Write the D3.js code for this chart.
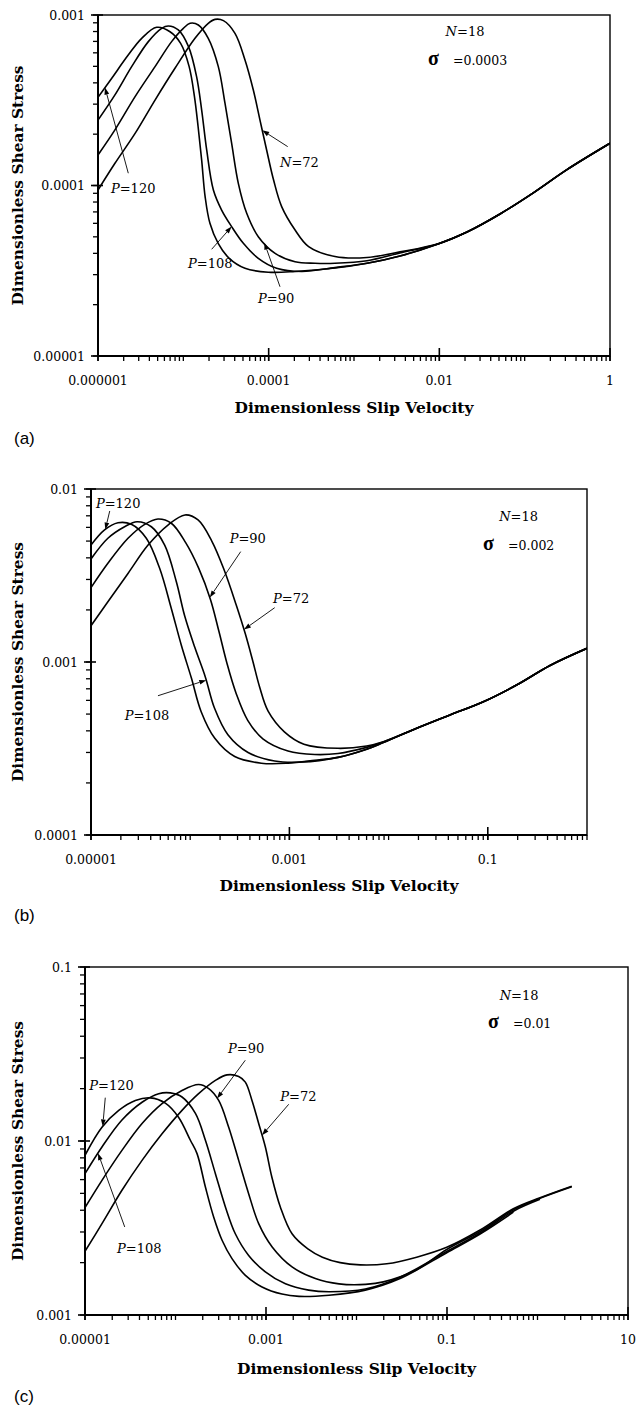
<!DOCTYPE html>
<html><head><meta charset="utf-8">
<script src="https://cdn.jsdelivr.net/npm/d3@7"></script>
<style>body{margin:0;background:#fff}svg{display:block}</style>
</head><body>
<svg id="chart" width="637" height="1410"></svg>
<script>
// ---------------- DATA ----------------
const seriesNames = ["P=72", "P=90", "P=108", "P=120"];
const panelLabels = ["(a)", "(b)", "(c)"];
const sigmaTexts = ["=0.0003", "=0.002", "=0.01"];
const nText = ["N", "=18"];

// panel (a): [slip velocity, shear stress]
const a_P120 = [[1.0e-6,3.29e-4],[1.45e-6,4.26e-4],[2.26e-6,5.82e-4],[3.25e-6,7.30e-4],[4.87e-6,8.47e-4],[6.98e-6,7.98e-4],[9.3e-6,6.82e-4],[1.17e-5,4.98e-4],[1.35e-5,3.32e-4],[1.49e-5,2.21e-4],[1.64e-5,1.41e-4],[1.80e-5,8.61e-5],[2.05e-5,6.00e-5],[2.56e-5,4.58e-5],[3.45e-5,3.74e-5],[5.28e-5,3.27e-5],[9.91e-5,3.10e-5],[2.04e-4,3.13e-5],[5.99e-4,3.28e-5],[1.42e-3,3.50e-5],[3.46e-3,3.86e-5],[9.65e-3,4.54e-5]];
const a_P108 = [[1.0e-6,2.42e-4],[1.58e-6,3.40e-4],[2.48e-6,4.98e-4],[3.89e-6,6.98e-4],[5.57e-6,8.35e-4],[6.67e-6,8.62e-4],[8.73e-6,8.17e-4],[1.15e-5,6.52e-4],[1.43e-5,4.35e-4],[1.64e-5,2.77e-4],[1.88e-5,1.61e-4],[2.25e-5,9.41e-5],[2.81e-5,7.18e-5],[3.68e-5,5.74e-5],[5.05e-5,4.58e-5],[7.56e-5,3.74e-5],[1.24e-4,3.27e-5],[2.44e-4,3.13e-5],[5.99e-4,3.30e-5],[1.42e-3,3.50e-5],[3.46e-3,3.86e-5],[9.65e-3,4.54e-5]];
const a_P90 = [[1.0e-6,1.51e-4],[1.58e-6,2.12e-4],[2.72e-6,3.32e-4],[4.66e-6,4.98e-4],[7.29e-6,6.98e-4],[1.0e-5,8.35e-4],[1.20e-5,8.94e-4],[1.50e-5,8.74e-4],[1.96e-5,7.30e-4],[2.57e-5,4.98e-4],[3.08e-5,3.03e-4],[3.68e-5,1.77e-4],[4.41e-5,1.03e-4],[5.53e-5,6.87e-5],[7.56e-5,5.01e-5],[1.19e-4,4.00e-5],[2.04e-4,3.57e-5],[3.49e-4,3.50e-5],[5.99e-4,3.50e-5],[1.42e-3,3.62e-5],[3.46e-3,4.02e-5],[9.65e-3,4.54e-5]];
const a_P72 = [[1.0e-6,9.41e-5],[1.58e-6,1.35e-4],[2.72e-6,2.02e-4],[4.66e-6,3.17e-4],[7.98e-6,4.87e-4],[1.37e-5,7.30e-4],[1.96e-5,8.94e-4],[2.35e-5,9.43e-4],[2.95e-5,9.27e-4],[4.03e-5,7.81e-4],[5.28e-5,5.45e-4],[6.61e-5,3.63e-4],[7.91e-5,2.42e-4],[9.48e-5,1.61e-4],[1.14e-4,1.08e-4],[1.42e-4,7.52e-5],[2.04e-4,5.48e-5],[2.94e-4,4.38e-5],[5.99e-4,3.83e-5],[1.42e-3,3.78e-5],[3.46e-3,4.08e-5],[9.65e-3,4.56e-5]];
const a_tail = [[0.0211,5.34e-5],[0.0514,6.81e-5],[0.125,9.03e-5],[0.313,1.24e-4],[1.0,1.77e-4]];

// panel (b)
const b_P120 = [[1.0e-5,4.74e-3],[1.37e-5,5.80e-3],[1.87e-5,6.38e-3],[2.55e-5,6.25e-3],[3.61e-5,5.19e-3],[4.92e-5,3.48e-3],[6.45e-5,2.04e-3],[8.14e-5,1.25e-3],[1.03e-4,8.05e-4],[1.29e-4,5.16e-4],[1.77e-4,3.62e-4],[2.81e-4,2.84e-4],[5.21e-4,2.60e-4],[9.68e-4,2.60e-4],[1.80e-3,2.70e-4],[3.09e-3,2.81e-4],[6.01e-3,3.13e-4],[8.85e-3,3.42e-4]];
const b_P108 = [[1.0e-5,3.94e-3],[1.48e-5,5.19e-3],[2.18e-5,6.05e-3],[2.91e-5,6.47e-3],[4.06e-5,6.05e-3],[5.53e-5,4.74e-3],[7.25e-5,2.91e-3],[8.79e-5,1.85e-3],[1.11e-4,1.22e-3],[1.42e-4,8.20e-4],[1.76e-4,5.40e-4],[2.40e-4,3.80e-4],[3.83e-4,3.00e-4],[7.10e-4,2.68e-4],[1.32e-3,2.64e-4],[3.09e-3,2.81e-4],[6.01e-3,3.13e-4],[8.85e-3,3.42e-4]];
const b_P90 = [[1.0e-5,2.69e-3],[1.48e-5,3.72e-3],[2.36e-5,5.19e-3],[3.48e-5,6.25e-3],[4.73e-5,6.71e-3],[6.45e-5,6.34e-3],[9.0e-5,4.90e-3],[1.22e-4,3.48e-3],[1.60e-4,2.30e-3],[1.95e-4,1.50e-3],[2.35e-4,9.80e-4],[2.90e-4,6.60e-4],[3.80e-4,4.60e-4],[5.40e-4,3.60e-4],[9.68e-4,3.06e-4],[1.80e-3,2.92e-4],[3.09e-3,2.96e-4],[6.01e-3,3.21e-4],[8.85e-3,3.45e-4]];
const b_P72 = [[1.0e-5,1.62e-3],[1.48e-5,2.23e-3],[2.36e-5,3.25e-3],[3.76e-5,4.74e-3],[5.97e-5,6.19e-3],[8.86e-5,7.08e-3],[1.20e-4,6.62e-3],[1.65e-4,5.00e-3],[2.20e-4,3.40e-3],[2.90e-4,2.15e-3],[3.60e-4,1.45e-3],[4.30e-4,1.00e-3],[5.00e-4,7.20e-4],[6.10e-4,5.20e-4],[8.90e-4,3.95e-4],[1.40e-3,3.35e-4],[3.09e-3,3.17e-4],[6.01e-3,3.27e-4],[8.85e-3,3.46e-4]];
const b_tail = [[0.0192,4.14e-4],[0.0416,4.94e-4],[0.0902,5.89e-4],[0.195,7.36e-4],[0.424,9.55e-4],[1.0,1.20e-3]];

// panel (c)
const c_P120 = [[1.0e-5,8.28e-3],[1.54e-5,1.20e-2],[2.36e-5,1.50e-2],[3.60e-5,1.71e-2],[5.27e-5,1.77e-2],[7.72e-5,1.65e-2],[1.08e-4,1.37e-2],[1.46e-4,1.01e-2],[1.73e-4,8.46e-3],[2.14e-4,5.44e-3],[2.64e-4,3.66e-3],[3.27e-4,2.69e-3],[4.21e-4,2.11e-3],[5.92e-4,1.69e-3],[9.04e-4,1.45e-3],[1.50e-3,1.32e-3],[2.32e-3,1.28e-3],[4.97e-3,1.30e-3],[0.0125,1.39e-3],[0.0303,1.62e-3],[0.0993,2.28e-3],[0.232,2.92e-3],[0.541,3.90e-3]];
const c_P108 = [[1.0e-5,6.49e-3],[1.54e-5,9.24e-3],[2.56e-5,1.32e-2],[4.27e-5,1.67e-2],[6.52e-5,1.87e-2],[8.77e-5,1.89e-2],[1.18e-4,1.79e-2],[1.66e-4,1.44e-2],[2.14e-4,1.01e-2],[2.76e-4,6.49e-3],[3.56e-4,4.18e-3],[4.58e-4,2.93e-3],[6.43e-4,2.20e-3],[9.84e-4,1.77e-3],[1.64e-3,1.51e-3],[2.96e-3,1.39e-3],[4.97e-3,1.36e-3],[0.0125,1.41e-3],[0.0303,1.65e-3],[0.0993,2.32e-3],[0.232,2.96e-3],[0.541,3.95e-3],[1.066,4.62e-3]];
const c_P90 = [[1.0e-5,4.14e-3],[1.54e-5,5.94e-3],[2.56e-5,8.83e-3],[4.27e-5,1.26e-2],[7.10e-5,1.64e-2],[1.18e-4,1.95e-2],[1.80e-4,2.11e-2],[2.33e-4,2.00e-2],[3.00e-4,1.71e-2],[3.87e-4,1.20e-2],[4.99e-4,7.74e-3],[6.43e-4,4.98e-3],[8.30e-4,3.35e-3],[1.17e-3,2.46e-3],[1.94e-3,1.89e-3],[3.51e-3,1.62e-3],[6.40e-3,1.51e-3],[0.0126,1.50e-3],[0.0198,1.55e-3],[0.0462,1.82e-3],[0.0993,2.38e-3],[0.232,3.02e-3],[0.541,4.02e-3],[1.066,4.68e-3],[2.39,5.45e-3]];
const c_P72 = [[1.0e-5,2.32e-3],[1.54e-5,3.35e-3],[2.56e-5,5.21e-3],[4.27e-5,7.74e-3],[7.10e-5,1.10e-2],[1.18e-4,1.50e-2],[1.80e-4,1.87e-2],[2.76e-4,2.23e-2],[3.71e-4,2.40e-2],[4.99e-4,2.35e-2],[5.91e-4,2.18e-2],[7.00e-4,1.71e-2],[8.30e-4,1.26e-2],[9.84e-4,9.24e-3],[1.16e-3,6.21e-3],[1.44e-3,4.18e-3],[1.94e-3,2.93e-3],[2.90e-3,2.40e-3],[4.20e-3,2.15e-3],[6.60e-3,2.00e-3],[0.011,1.94e-3],[0.0216,1.97e-3],[0.0462,2.15e-3],[0.0993,2.45e-3],[0.232,3.08e-3],[0.541,4.08e-3],[1.066,4.72e-3],[2.39,5.50e-3]];

// tick labels
const xTickValsA = [1e-6, 1e-4, 1e-2, 1], xTickTextA = ["0.000001", "0.0001", "0.01", "1"];
const yTickValsA = [1e-5, 1e-4, 1e-3], yTickTextA = ["0.00001", "0.0001", "0.001"];
const xTickValsB = [1e-5, 1e-3, 1e-1], xTickTextB = ["0.00001", "0.001", "0.1"];
const yTickValsB = [1e-4, 1e-3, 1e-2], yTickTextB = ["0.0001", "0.001", "0.01"];
const xTickValsC = [1e-5, 1e-3, 1e-1, 10], xTickTextC = ["0.00001", "0.001", "0.1", "10"];
const yTickValsC = [1e-3, 1e-2, 1e-1], yTickTextC = ["0.001", "0.01", "0.1"];

const xTitle = "Dimensionless Slip Velocity";
const yTitle = "Dimensionless Shear Stress";

// ---------------- LAYOUT ----------------
const panels = [
  { left: 98, right: 610, top: 15, bottom: 356, xDom: [1e-6, 1], yDom: [1e-5, 1e-3],
    xt: xTickValsA, xtt: xTickTextA, yt: yTickValsA, ytt: yTickTextA, titleY: 413, labelY: 444,
    series: [a_P72.concat(a_tail), a_P90.concat(a_tail), a_P108.concat(a_tail), a_P120.concat(a_tail)],
    nAt: [-1.699, -3.123], sAt: [-2.133, -3.293],
    ann: [
      { t: ["P", "=120"], at: [-5.848, -4.044], from: [-5.645, -3.928], s: 3, tip: -5.918 },
      { t: ["N", "=72"], at: [-3.867, -3.891], from: [-3.777, -3.772], s: 0, tip: -4.075 },
      { t: ["P", "=108"], at: [-4.945, -4.484], from: [-4.668, -4.374], s: 2, tip: -4.434 },
      { t: ["P", "=90"], at: [-4.125, -4.689], from: [-3.867, -4.594], s: 1, tip: -4.051 } ] },
  { left: 91, right: 587, top: 489, bottom: 835, xDom: [1e-5, 1], yDom: [1e-4, 1e-2],
    xt: xTickValsB, xtt: xTickTextB, yt: yTickValsB, ytt: yTickTextB, titleY: 891, labelY: 921,
    series: [b_P72.concat(b_tail), b_P90.concat(b_tail), b_P108.concat(b_tail), b_P120.concat(b_tail)],
    nAt: [-0.690, -2.185], sAt: [-1.048, -2.353],
    ann: [
      { t: ["P", "=120"], at: [-4.950, -2.110], from: [-4.811, -2.127], s: 3, tip: -4.856 },
      { t: ["P", "=90"], at: [-3.602, -2.312], from: [-3.491, -2.362], s: 1, tip: -3.803 },
      { t: ["P", "=72"], at: [-3.165, -2.659], from: [-3.148, -2.686], s: 0, tip: -3.458 },
      { t: ["P", "=108"], at: [-4.660, -3.335], from: [-4.325, -3.195], s: 2, tip: -3.838 } ] },
  { left: 85, right: 628, top: 967, bottom: 1315, xDom: [1e-5, 10], yDom: [1e-3, 1e-1],
    xt: xTickValsC, xtt: xTickTextC, yt: yTickValsC, ytt: yTickTextC, titleY: 1374, labelY: 1402,
    series: [c_P72, c_P90, c_P108, c_P120],
    nAt: [-0.204, -1.191], sAt: [-0.547, -1.352],
    ann: [
      { t: ["P", "=120"], at: [-4.952, -1.709], from: [-4.776, -1.751], s: 3, tip: -4.804 },
      { t: ["P", "=90"], at: [-3.420, -1.496], from: [-3.229, -1.536], s: 1, tip: -3.541 },
      { t: ["P", "=72"], at: [-2.842, -1.772], from: [-2.749, -1.789], s: 0, tip: -3.044 },
      { t: ["P", "=108"], at: [-4.646, -2.645], from: [-4.561, -2.494], s: 2, tip: -4.856 } ] }
];

const svg = d3.select("#chart");
const SERIF = "'DejaVu Serif', 'Liberation Serif', serif";
const P10 = v => Math.pow(10, v);

function interpLog(series, lx) {
  for (let i = 0; i < series.length - 1; i++) {
    const x0 = Math.log10(series[i][0]), x1 = Math.log10(series[i + 1][0]);
    if (lx >= x0 && lx <= x1) {
      const f = (lx - x0) / (x1 - x0);
      return Math.log10(series[i][1]) * (1 - f) + Math.log10(series[i + 1][1]) * f;
    }
  }
  return Math.log10(series[0][1]);
}

function fitWidth(sel, target) {
  const w = sel.node().getComputedTextLength();
  const fs = parseFloat(sel.attr("font-size"));
  sel.attr("font-size", (fs * target / w).toFixed(2));
}

panels.forEach((p, i) => {
  const x = d3.scaleLog().domain(p.xDom).range([p.left, p.right]);
  const y = d3.scaleLog().domain(p.yDom).range([p.bottom, p.top]);
  const g = svg.append("g");

  const clipId = "clip" + i;
  svg.append("clipPath").attr("id", clipId).append("rect")
    .attr("x", p.left).attr("y", p.top).attr("width", p.right - p.left).attr("height", p.bottom - p.top);

  // curves
  const line = d3.line().x(d => x(d[0])).y(d => y(d[1])).curve(d3.curveCatmullRom.alpha(0.5));
  g.append("g").attr("clip-path", `url(#${clipId})`).selectAll("path").data(p.series).join("path")
    .attr("d", line).attr("fill", "none").attr("stroke", "#000").attr("stroke-width", 1.6)
    .attr("stroke-linejoin", "round");

  // frame
  g.append("rect").attr("x", p.left).attr("y", p.top).attr("width", p.right - p.left).attr("height", p.bottom - p.top)
    .attr("fill", "none").attr("stroke", "#000").attr("stroke-width", 1.4);
  g.append("line").attr("x1", p.left).attr("x2", p.left).attr("y1", p.top).attr("y2", p.bottom).attr("stroke", "#000").attr("stroke-width", 2);
  g.append("line").attr("x1", p.left).attr("x2", p.right).attr("y1", p.bottom).attr("y2", p.bottom).attr("stroke", "#000").attr("stroke-width", 2);

  // minor ticks
  const minors = (dom) => {
    const out = [];
    const e0 = Math.round(Math.log10(dom[0])), e1 = Math.round(Math.log10(dom[1]));
    for (let e = e0; e <= e1; e++) for (let k = 1; k <= 9; k++) {
      const v = k * Math.pow(10, e);
      if (v >= dom[0] * 0.999 && v <= dom[1] * 1.001) out.push(v);
    }
    return out;
  };
  g.append("g").selectAll("line").data(minors(p.xDom)).join("line")
    .attr("x1", d => x(d)).attr("x2", d => x(d)).attr("y1", p.bottom).attr("y2", p.bottom + 5)
    .attr("stroke", "#000").attr("stroke-width", 1.3);
  g.append("g").selectAll("line").data(p.xt).join("line")
    .attr("x1", d => x(d)).attr("x2", d => x(d)).attr("y1", p.bottom - 8).attr("y2", p.bottom + 5)
    .attr("stroke", "#000").attr("stroke-width", 1.6);
  g.append("g").selectAll("line").data(minors(p.yDom)).join("line")
    .attr("x1", p.left - 5).attr("x2", p.left).attr("y1", d => y(d)).attr("y2", d => y(d))
    .attr("stroke", "#000").attr("stroke-width", 1.3);
  g.append("g").selectAll("line").data(p.yt).join("line")
    .attr("x1", p.left - 7).attr("x2", p.left + 5).attr("y1", d => y(d)).attr("y2", d => y(d))
    .attr("stroke", "#000").attr("stroke-width", 1.6);

  // tick labels
  g.append("g").selectAll("text").data(p.xt).join("text")
    .attr("x", d => x(d)).attr("y", p.bottom + 29).attr("text-anchor", "middle")
    .attr("font-family", SERIF).attr("font-size", 12.5).text((d, j) => p.xtt[j]);
  g.append("g").selectAll("text").data(p.yt).join("text")
    .attr("x", p.left - 13).attr("y", d => y(d) + 4.5).attr("text-anchor", "end")
    .attr("font-family", SERIF).attr("font-size", 12.5).text((d, j) => p.ytt[j]);

  // titles
  const xt = g.append("text").attr("x", (p.left + p.right) / 2).attr("y", p.titleY).attr("text-anchor", "middle")
    .attr("font-family", SERIF).attr("font-weight", "bold").attr("font-size", 14).text(xTitle);
  fitWidth(xt, 239);
  const yc = (p.top + p.bottom) / 2;
  const yt = g.append("text").attr("transform", `translate(23,${yc}) rotate(-90)`).attr("text-anchor", "middle")
    .attr("font-family", SERIF).attr("font-weight", "bold").attr("font-size", 14).text(yTitle);
  fitWidth(yt, 240);

  // panel label
  g.append("text").attr("x", 14).attr("y", p.labelY).attr("font-family", "'Liberation Sans', Arial, sans-serif")
    .attr("font-size", 17).text(panelLabels[i]);

  // N=18 and sigma
  const nt = g.append("text").attr("x", x(P10(p.nAt[0]))).attr("y", y(P10(p.nAt[1]))).attr("text-anchor", "middle")
    .attr("font-family", SERIF).attr("font-size", 13);
  nt.append("tspan").attr("font-style", "italic").text(nText[0]);
  nt.append("tspan").text(nText[1]);
  const sx = x(P10(p.sAt[0])), sy = y(P10(p.sAt[1]));
  g.append("text").attr("x", sx).attr("y", sy).attr("font-family", "'Liberation Serif', serif").attr("font-weight", "bold")
    .attr("font-size", 20).text("σ");
  g.append("text").attr("x", sx + 25).attr("y", sy).attr("font-family", SERIF).attr("font-size", 12.5).text(sigmaTexts[i]);

  // curve labels with arrows
  p.ann.forEach(a => {
    const t = g.append("text").attr("x", x(P10(a.at[0]))).attr("y", y(P10(a.at[1])))
      .attr("font-family", SERIF).attr("font-size", 13);
    t.append("tspan").attr("font-style", "italic").text(a.t[0]);
    t.append("tspan").text(a.t[1]);
    const fx = x(P10(a.from[0])), fy = y(P10(a.from[1]));
    const tx = x(P10(a.tip)), ty = y(P10(interpLog(p.series[a.s], a.tip)));
    const ang = Math.atan2(ty - fy, tx - fx);
    const L = 7, W = 2.4;
    const bx = tx - L * Math.cos(ang), by = ty - L * Math.sin(ang);
    g.append("line").attr("x1", fx).attr("y1", fy).attr("x2", bx).attr("y2", by)
      .attr("stroke", "#000").attr("stroke-width", 0.9);
    g.append("path").attr("d", `M${tx},${ty}L${bx - W * Math.sin(ang)},${by + W * Math.cos(ang)}L${bx + W * Math.sin(ang)},${by - W * Math.cos(ang)}Z`)
      .attr("fill", "#000");
  });
});
</script>
</body></html>
